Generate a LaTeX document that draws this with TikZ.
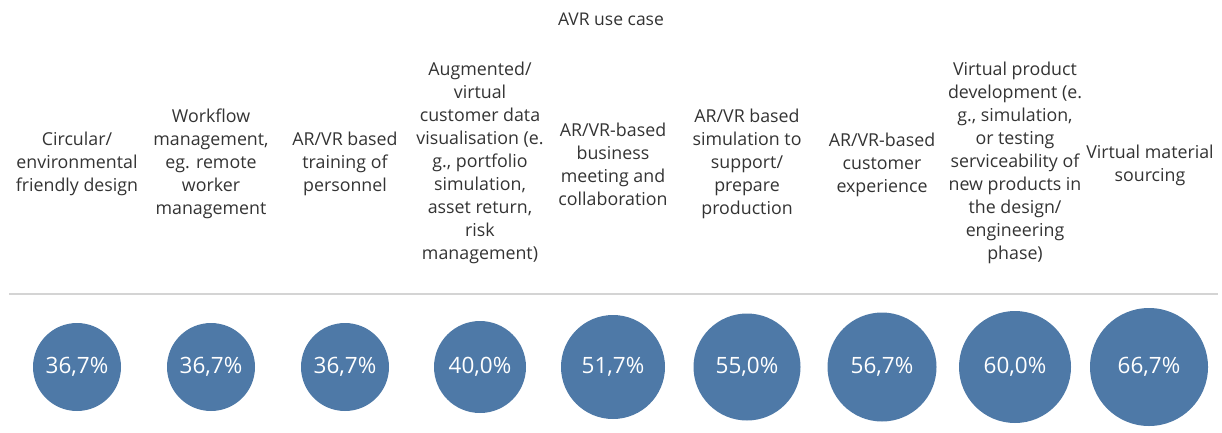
\documentclass[tikz,border=0pt]{standalone}
\usepackage{fontspec}
\setmainfont{Open Sans}
\usepackage{xcolor}
\usepackage{tikz}
\usetikzlibrary{positioning}
\definecolor{tabblue}{HTML}{4E79A7}
\definecolor{rulegray}{HTML}{D4D4D4}
\definecolor{txtgray}{HTML}{333333}
\tikzset{
  usecase/.style ={align=center,text=txtgray,inner sep=0pt,font=\fontsize{17.8}{23}\selectfont},
  head/.style    ={text=txtgray,inner sep=0pt,font=\fontsize{17.5}{20}\selectfont},
  bubble/.style  ={circle,fill=tabblue,inner sep=0pt,text=white,font=\fontsize{22.5}{26}\selectfont},
  rule/.style    ={rulegray,line width=1.6pt},
}

\begin{document}
\begin{tikzpicture}[x=1pt,y=-1pt]
  \useasboundingbox (0,0) rectangle (1222,432);
  \node[head] (title) at (611,19) {AVR use case};
  % use case labels
  \node[usecase] (l1) at (77,164)   {Circular/\\environmental\\friendly design};
  \node[usecase] (l2) at (211,164)  {Workflow\\management,\\eg. remote\\worker\\management};
  \node[usecase] (l3) at (345,164)  {AR/VR based\\training of\\personnel};
  \node[usecase] (l4) at (480,163)  {Augmented/\\virtual\\customer data\\visualisation (e.\\g., portfolio\\simulation,\\asset return,\\risk\\management)};
  \node[usecase] (l5) at (613,164)  {AR/VR-based\\business\\meeting and\\collaboration};
  \node[usecase] (l6) at (747,164)  {AR/VR based\\simulation to\\support/\\prepare\\production};
  \node[usecase] (l7) at (882,165)  {AR/VR-based\\customer\\experience};
  \node[usecase] (l8) at (1015,163) {Virtual product\\development (e.\\g., simulation,\\or testing\\serviceability of\\new products in\\the design/\\engineering\\phase)};
  \node[usecase] (l9) at (1150,165) {Virtual material\\sourcing};
  % separator
  \coordinate (rl) at (9,294);
  \coordinate (rr) at (1218,294);
  \draw[rule] (rl) -- (rr);
  % share bubbles, area ~ value
  \node[bubble,minimum size=88pt]  (c1) at (77,367)   {36,7\%};
  \node[bubble,minimum size=88pt]  (c2) at (211,367)  {36,7\%};
  \node[bubble,minimum size=88pt]  (c3) at (345,367)  {36,7\%};
  \node[bubble,minimum size=92pt]  (c4) at (480,367)  {40,0\%};
  \node[bubble,minimum size=104pt] (c5) at (613,367)  {51,7\%};
  \node[bubble,minimum size=107pt] (c6) at (747,367)  {55,0\%};
  \node[bubble,minimum size=109pt] (c7) at (882,367)  {56,7\%};
  \node[bubble,minimum size=112pt] (c8) at (1015,367) {60,0\%};
  \node[bubble,minimum size=118pt] (c9) at (1149,367) {66,7\%};
\end{tikzpicture}
\end{document}
